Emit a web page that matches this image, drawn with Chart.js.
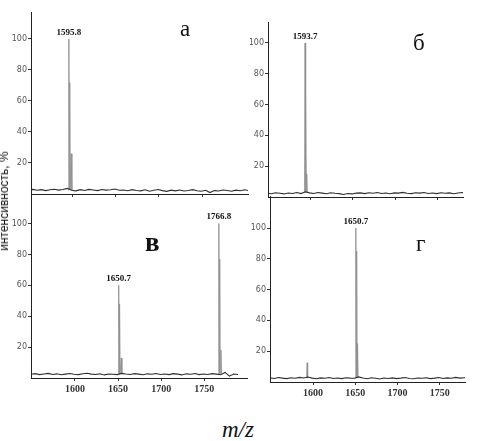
<!DOCTYPE html>
<html>
<head>
<meta charset="utf-8">
<script src="https://cdn.jsdelivr.net/npm/chart.js@4.4.1/dist/chart.umd.min.js"></script>
<style>
  body { margin: 0; background: #fff; width: 494px; height: 441px; overflow: hidden; position: relative; }
  canvas { position: absolute; }
  .lbl { position: absolute; font-family: "Liberation Serif", serif; line-height: 1; color: #111; white-space: nowrap; }
  #ylab { position: absolute; left: 4px; top: 201px; transform: translate(-50%, -50%) rotate(-90deg);
          font: 12px "Liberation Sans", Arial, sans-serif; color: #111; white-space: nowrap; }
</style>
</head>
<body>
<canvas id="panelA" width="250" height="206" style="left:0;top:0"></canvas>
<canvas id="panelB" width="244" height="206" style="left:250px;top:0"></canvas>
<canvas id="panelC" width="250" height="212" style="left:0;top:190px"></canvas>
<canvas id="panelD" width="244" height="214" style="left:250px;top:190px"></canvas>

<div class="lbl" style="left:180px;top:17px;font-size:23px">а</div>
<div class="lbl" style="left:413px;top:31px;font-size:23px">б</div>
<div class="lbl" style="left:145px;top:229px;font-size:27px;font-weight:bold">в</div>
<div class="lbl" style="left:416px;top:232px;font-size:23px">г</div>
<div class="lbl" style="left:222px;top:418px;font-size:23px;font-style:italic">m/z</div>
<div id="ylab">интенсивность, %</div>

<script>
// m/z grid for the baseline noise (shared by all four spectra)
const noiseMz = [1549,1554,1559,1564,1569,1574,1579,1584,1589,1594,1599,1604,1609,1614,1619,1624,1629,1634,1639,1644,
                 1649,1654,1659,1664,1669,1674,1679,1684,1689,1694,1699,1704,1709,1714,1719,1724,1729,1734,1739,1744,
                 1749,1754,1759,1764,1769,1774,1779,1784,1789,1794,1799,1804];

const noiseA = [2.6,3.0,2.4,2.8,2.2,2.7,3.1,2.5,2.9,3.6,2.4,2.0,2.8,2.3,3.0,2.6,2.2,2.9,2.5,2.7,
                3.2,2.4,2.6,2.1,2.8,2.3,2.0,2.7,1.8,2.4,2.9,2.2,1.7,2.5,2.0,2.6,1.9,2.3,2.8,2.1,
                1.8,2.4,0.9,2.2,1.9,2.6,2.3,1.8,2.5,2.1,2.7,2.2];
const noiseB = [2.5,2.1,2.8,2.4,2.0,2.6,2.3,2.9,2.2,3.4,2.7,2.3,2.9,2.5,2.1,2.8,2.4,2.2,1.6,2.3,
                2.0,2.5,2.7,2.2,2.8,2.4,2.9,2.3,2.6,2.1,2.7,2.5,3.0,2.4,2.2,2.8,2.5,2.9,2.3,2.6,
                2.2,2.8,2.4,2.7,2.1,2.6,2.9,2.4,2.5,2.2,2.6,2.3];
const noiseC = [2.4,2.8,2.2,2.6,3.0,2.3,2.7,2.1,2.5,2.9,2.4,2.2,2.8,3.1,2.5,2.3,2.7,2.0,2.6,2.4,
                2.2,3.0,2.6,2.3,2.8,2.5,2.1,2.7,2.4,2.9,2.3,2.6,2.2,2.8,2.5,2.0,2.7,2.4,2.9,2.2,
                2.6,2.3,2.8,2.5,2.1,3.6,1.2,2.6,2.3,null,null,null];
const noiseD = [2.7,2.3,2.9,2.5,2.2,2.8,2.4,3.0,2.6,3.2,2.5,2.1,2.7,2.4,2.9,2.3,2.6,2.2,2.8,2.5,
                2.4,3.3,2.6,2.1,2.8,2.4,2.0,2.6,2.3,2.7,2.2,2.5,2.9,2.3,2.1,2.6,2.4,2.8,2.2,2.5,
                2.9,2.3,2.7,2.4,3.0,2.5,2.8,2.6,2.3,2.7,2.4,2.6];

// isotope peaks (m/z, intensity %), null = gap between peak groups
const peakMzA  = [1595.0, 1595.8, 1596.3, 1596.8, 1597.4, 1598.5, 1599.3];
const peakIntA = [2.5, 100, 3, 72, 3, 26, 2.5];
const peakMzB  = [1593.0, 1593.7, 1594.2, 1594.7, 1595.2, 1595.7, 1596.4];
const peakIntB = [2.5, 100, 3, 68, 3, 15, 2.5];
const peakMzC  = [1650.0, 1650.7, 1651.2, 1651.7, 1652.3, 1653.7, 1654.4, 1700, 1766.1, 1766.8, 1767.3, 1767.8, 1768.3, 1769.2, 1770.0];
const peakIntC = [2.5, 60, 3, 48, 3, 13, 2.5, null, 2.5, 100, 3, 77, 3, 18, 2.5];
const peakMzD  = [1592.3, 1593.0, 1593.6, 1620, 1650.0, 1650.7, 1651.2, 1651.7, 1652.2, 1652.7, 1653.4];
const peakIntD = [2.5, 12.5, 2.5, null, 2.5, 100, 3, 85, 3, 25, 2.5];

// peak annotations
const labelMzA = [1595.8], labelHA = [100], labelTextA = ['1595.8'];
const labelMzB = [1593.7], labelHB = [100], labelTextB = ['1593.7'];
const labelMzC = [1650.7, 1766.8], labelHC = [60, 100], labelTextC = ['1650.7', '1766.8'];
const labelMzD = [1650.7], labelHD = [100], labelTextD = ['1650.7'];

const xTicks = [1600, 1650, 1700, 1750];
const yTicks = [20, 40, 60, 80, 100];

const peakLabels = {
    id: 'peakLabels',
    afterDatasetsDraw(chart, args, opts) {
        const {ctx, scales: {x, y}} = chart;
        ctx.save();
        ctx.font = 'bold 9px "Liberation Serif"';
        ctx.fillStyle = '#111';
        ctx.textAlign = 'center';
        ctx.textBaseline = 'bottom';
        opts.mz.forEach((m, i) => {
            ctx.fillText(opts.text[i], x.getPixelForValue(m), y.getPixelForValue(opts.h[i]) - 2);
        });
        ctx.restore();
    }
};

function toPoints(xs, ys) {
    return xs.map((m, i) => ({x: m, y: ys[i]}));
}

function makePanel(id, cfg) {
    new Chart(document.getElementById(id), {
        type: 'line',
        data: {
            datasets: [
                {data: toPoints(noiseMz, cfg.noise), borderColor: '#2e2e2e', borderWidth: 1.1},
                {data: toPoints(cfg.peakMz, cfg.peakInt), borderColor: '#8a8a8a', borderWidth: 0.8}
            ]
        },
        options: {
            responsive: false,
            animation: false,
            spanGaps: false,
            layout: {padding: cfg.pad},
            elements: {point: {radius: 0}, line: {tension: 0}},
            plugins: {
                legend: {display: false},
                tooltip: {enabled: false},
                peakLabels: {mz: cfg.labelMz, h: cfg.labelH, text: cfg.labelText}
            },
            scales: {
                x: {
                    type: 'linear', min: cfg.xMin, max: cfg.xMax,
                    afterBuildTicks: (s) => { s.ticks = xTicks.map(v => ({value: v})); },
                    afterFit: (s) => { s.height = cfg.xh; },
                    border: {color: '#222', width: 1},
                    grid: {drawOnChartArea: false, tickLength: 3, color: '#333'},
                    ticks: {display: cfg.showX, color: '#333', padding: 2,
                            callback: (v) => String(v),
                            font: {family: 'Liberation Serif', weight: 'bold', size: 10}}
                },
                y: {
                    min: 0, max: cfg.yMax,
                    afterBuildTicks: (s) => { s.ticks = yTicks.map(v => ({value: v})); },
                    afterFit: (s) => { s.width = cfg.yw; },
                    border: {color: '#222', width: 1},
                    grid: {drawOnChartArea: false, tickLength: 3, color: '#333'},
                    ticks: {color: '#555', padding: 1, font: {family: 'DejaVu Sans', size: 8}}
                }
            }
        },
        plugins: [peakLabels]
    });
}

makePanel('panelA', {noise: noiseA, peakMz: peakMzA, peakInt: peakIntA,
    labelMz: labelMzA, labelH: labelHA, labelText: labelTextA,
    xMin: 1552, xMax: 1803, yMax: 117.4, yw: 31, xh: 12, showX: false,
    pad: {top: 12, right: 2, left: 0, bottom: 0}});
makePanel('panelB', {noise: noiseB, peakMz: peakMzB, peakInt: peakIntB,
    labelMz: labelMzB, labelH: labelHB, labelText: labelTextB,
    xMin: 1550, xMax: 1780, yMax: 113.6, yw: 18, xh: 9, showX: false,
    pad: {top: 22, right: 31, left: 0, bottom: 0}});
makePanel('panelC', {noise: noiseC, peakMz: peakMzC, peakInt: peakIntC,
    labelMz: labelMzC, labelH: labelHC, labelText: labelTextC,
    xMin: 1549, xMax: 1800, yMax: 118, yw: 31, xh: 24, showX: true,
    pad: {top: 5, right: 2.5, left: 0, bottom: 0}});
makePanel('panelD', {noise: noiseD, peakMz: peakMzD, peakInt: peakIntD,
    labelMz: labelMzD, labelH: labelHD, labelText: labelTextD,
    xMin: 1549, xMax: 1780, yMax: 120.8, yw: 20, xh: 22, showX: true,
    pad: {top: 6, right: 29, left: 0, bottom: 0}});
</script>
</body>
</html>
